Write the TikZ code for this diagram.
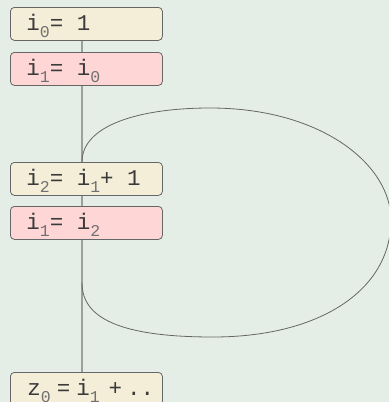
\documentclass[tikz,border=0pt]{standalone}
\usepackage{fontspec}
\setmonofont{Liberation Mono}
\definecolor{bgcol}{HTML}{E4EEE6}
\definecolor{defcol}{HTML}{F4EDD7}
\definecolor{phicol}{HTML}{FFD6D6}
\definecolor{edgecol}{HTML}{666666}
\definecolor{stemcol}{HTML}{9AA09A}
\definecolor{txtcol}{HTML}{3A3A3A}
\definecolor{subcol}{HTML}{707070}
\newcommand\ssa[1]{\raisebox{-7pt}{\fontsize{16.5}{16.5}\selectfont\color{subcol}#1}}
\newcommand\msp{\hspace{13.5pt}}
\tikzset{
  stmt/.style={draw=edgecol, line width=0.8pt, rounded corners=4pt,
    minimum width=152pt, minimum height=33pt, text width=134pt,
    text height=23pt, text depth=10pt,
    inner xsep=9pt, inner ysep=0pt, align=left, anchor=north west,
    font=\ttfamily\fontsize{22.5}{22.5}\selectfont, text=txtcol},
  defbox/.style={stmt, fill=defcol},
  phibox/.style={stmt, fill=phicol},
  stem/.style={draw=stemcol, line width=2pt},
  loopline/.style={draw=edgecol, line width=0.8pt}
}
\begin{document}
\begin{tikzpicture}[x=1pt,y=-1pt]
  \fill[bgcol] (0,0) rectangle (389,402);
  \useasboundingbox (0,0) rectangle (389,402);
  \clip (0,0) rectangle (389,402);
  % the def-use spine behind the statements
  \coordinate (top) at (82,40);
  \coordinate (bot) at (82,372);
  \draw[stem] (top) -- (bot);
  % back edge of the loop
  \coordinate (la) at (82,162);
  \coordinate (lb) at (82,283);
  \draw[loopline] (la) .. controls (82,125) and (140,108) .. (210,108)
    .. controls (322,108) and (391,165) .. (391,220)
    .. controls (391,290) and (320,337) .. (213,337)
    .. controls (120,337) and (82,318) .. (lb);
  % statements
  \node[defbox] (s0) at (10,7)   {\hspace{7pt}i\ssa{0}=\msp1};
  \node[phibox] (s1) at (10,52)  {\hspace{7pt}i\ssa{1}=\msp i\ssa{0}};
  \node[defbox] (s2) at (10,162) {\hspace{7pt}i\ssa{2}=\msp i\ssa{1}+\msp1};
  \node[phibox] (s3) at (10,206) {\hspace{7pt}i\ssa{1}=\msp i\ssa{2}};
  \node[defbox] (s4) at (10,372)
    {\mbox{\hspace{8pt}z\ssa{0}\hspace{6pt}=\hspace{6pt}i\ssa{1}\hspace{9pt}+\hspace{5pt}..}};
\end{tikzpicture}
\end{document}
